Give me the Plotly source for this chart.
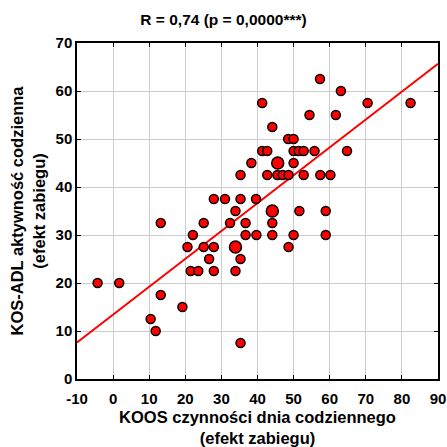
import numpy as np
import plotly.graph_objects as go

koos_adl = [57.3, 63.1, 41.3, 70.5, 82.4, 54.4, 61.7, 44.1, 48.5, 50.0,
            41.3, 42.7, 50.0, 51.4, 52.8, 55.8, 64.8, 38.3, 45.6, 50.0,
            35.3, 42.7, 45.5, 47.0, 48.6, 52.8, 57.4, 60.2, 27.9, 31.0,
            35.3, 39.6, 33.9, 44.1, 51.6, 58.9, 13.2, 25.1, 32.4, 36.7,
            44.1, 22.1, 36.7, 39.7, 44.1, 50.0, 58.9, 20.6, 25.1, 27.9,
            33.9, 48.6, 26.6, 35.3, 21.5, 23.6, 27.9, 33.9, -4.3, 1.7,
            13.2, 19.2, 10.4, 11.8, 35.3]
kos_adl = [62.5, 60.0, 57.5, 57.5, 57.5, 55.0, 55.0, 52.5, 50.0, 50.0,
           47.5, 47.5, 47.5, 47.5, 47.5, 47.5, 47.5, 45.0, 45.0, 45.0,
           42.5, 42.5, 42.5, 42.5, 42.5, 42.5, 42.5, 42.5, 37.5, 37.5,
           37.5, 37.5, 35.0, 35.0, 35.0, 35.0, 32.5, 32.5, 32.5, 32.5,
           32.5, 30.0, 30.0, 30.0, 30.0, 30.0, 30.0, 27.5, 27.5, 27.5,
           27.5, 27.5, 25.0, 25.0, 22.5, 22.5, 22.5, 22.5, 20.0, 20.0,
           17.5, 15.0, 12.5, 10.0, 7.5]
# multiplicity (overlapping observations drawn larger)
count = [1]*len(koos_adl)
for i in (18, 33, 50):
    count[i] = 2

x_ticks = list(range(-10, 91, 10))
x_ticktext = [str(v) for v in x_ticks]
y_ticks = list(range(0, 71, 10))
y_ticktext = [str(v) for v in y_ticks]

slope, intercept = np.polyfit(koos_adl, kos_adl, 1)
lx = np.array([-10, 90])
ly = intercept + slope * lx

FONT = "Arial, 'Liberation Sans', sans-serif"

fig = go.Figure()
fig.add_trace(go.Scatter(
    x=lx, y=ly, mode="lines",
    line=dict(color="#ff0000", width=2), showlegend=False, hoverinfo="skip"))
fig.add_trace(go.Scatter(
    x=koos_adl, y=kos_adl, mode="markers",
    marker=dict(size=[9 if c == 1 else 12 for c in count], color="#ff0000",
                opacity=1, line=dict(color="black", width=1.5)),
    showlegend=False))

axis_common = dict(
    showgrid=True, gridcolor="#cccccc", gridwidth=1,
    showline=True, linecolor="black", linewidth=1.5, mirror="ticks",
    ticks="inside", ticklen=4, tickcolor="black", tickwidth=1,
    zeroline=False, automargin=False,
    tickfont=dict(family=FONT, size=15, color="black", weight="bold"),
)

fig.update_layout(
    width=447, height=447,
    margin=dict(l=77, r=9, t=43, b=68),
    paper_bgcolor="white", plot_bgcolor="white",
    title=dict(text="<b>R = 0,74 (p = 0,0000***)</b>", x=0.5, xanchor="center",
               y=1 - 20/447, yanchor="middle",
               font=dict(family=FONT, size=15.5, color="black")),
    xaxis=dict(range=[-10, 90], tickvals=x_ticks, ticktext=x_ticktext,
               ticklabelstandoff=5,
               title=dict(text="<b>KOOS czynności dnia codziennego<br>(efekt zabiegu)</b>",
                          font=dict(family=FONT, size=16.5, color="black"), standoff=11),
               **axis_common),
    yaxis=dict(range=[0, 70], tickvals=y_ticks, ticktext=y_ticktext,
               title=dict(text="<b>KOS-ADL aktywność codzienna<br>(efekt zabiegu)</b>",
                          font=dict(family=FONT, size=16.5, color="black"), standoff=6),
               **axis_common),
)

fig.write_html("out.html")
